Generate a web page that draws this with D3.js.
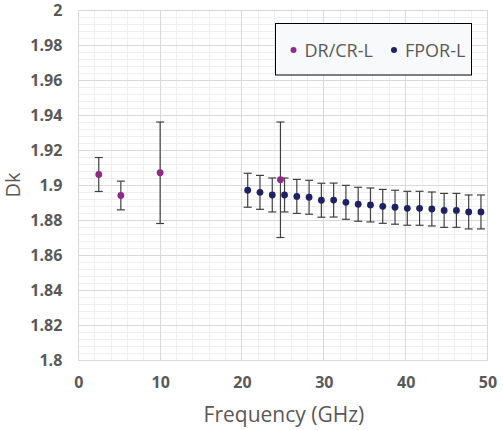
<!DOCTYPE html>
<html lang='en'>
  <head>
    <meta charset='utf-8'>
    <style>
      body { margin: 0; background: #fff; }
      svg { display: block; font-family: 'Open Sans', sans-serif; }
    </style>
  </head>
  <body>
    <div id='chart'></div>

    <script src='https://cdn.jsdelivr.net/npm/d3@7'></script>
    <script>
      // DR/CR-L measurements
      var drFreq = [2.5, 5.2, 10, 24.7];
      var drDk   = [1.906, 1.894, 1.907, 1.903];
      var drErr  = [0.0097, 0.0082, 0.029, 0.033];

      // FPOR-L measurements
      var fpFreq = [20.7, 22.2, 23.7, 25.2, 26.7, 28.2, 29.7, 31.2, 32.7, 34.2,
                    35.7, 37.2, 38.7, 40.2, 41.7, 43.2, 44.7, 46.2, 47.7, 49.2];
      var fpDk   = [1.8970, 1.8958, 1.8943, 1.8943, 1.8935, 1.8930, 1.8913, 1.8914, 1.8901, 1.8890,
                    1.8886, 1.8878, 1.8873, 1.8867, 1.8867, 1.8863, 1.8855, 1.8855, 1.8846, 1.8846];
      var fpErr  = [0.0097, 0.0097, 0.0097, 0.0097, 0.0097, 0.0097, 0.0097, 0.0097, 0.0097, 0.0097,
                    0.0097, 0.0097, 0.0097, 0.0097, 0.0097, 0.0097, 0.0097, 0.0097, 0.0097, 0.0097];

      var xTicks = [0, 10, 20, 30, 40, 50];
      var yTicks = [1.8, 1.82, 1.84, 1.86, 1.88, 1.9, 1.92, 1.94, 1.96, 1.98, 2];

      var seriesNames = ['DR/CR-L', 'FPOR-L'];
      var seriesColors = ['#8e2a87', '#1e2162'];

      var width = 503, height = 430;
      var mLeft = 78.3, mRight = 487.5, mTop = 10, mBottom = 360;

      var x = d3.scaleLinear().domain([0, 50]).range([mLeft, mRight]);
      var y = d3.scaleLinear().domain([1.8, 2]).range([mBottom, mTop]);

      var svg = d3.select('#chart').append('svg')
          .attr('width', width)
          .attr('height', height);

      // minor grid
      var g = svg.append('g').attr('shape-rendering', 'crispEdges');
      g.selectAll('.xminor')
          .data(d3.range(0, 50.01, 2))
        .enter().append('line')
          .attr('x1', function (d) { return x(d); })
          .attr('x2', function (d) { return x(d); })
          .attr('y1', mTop).attr('y2', mBottom)
          .attr('stroke', '#efefef');
      g.selectAll('.yminor')
          .data(d3.range(0, 51).map(function (i) { return 1.8 + i * 0.004; }))
        .enter().append('line')
          .attr('x1', mLeft).attr('x2', mRight)
          .attr('y1', function (d) { return y(d); })
          .attr('y2', function (d) { return y(d); })
          .attr('stroke', '#efefef');

      // major grid
      g.selectAll('.xmajor')
          .data(xTicks)
        .enter().append('line')
          .attr('x1', function (d) { return x(d); })
          .attr('x2', function (d) { return x(d); })
          .attr('y1', mTop).attr('y2', mBottom)
          .attr('stroke', '#d9d9d9');
      g.selectAll('.ymajor')
          .data(yTicks)
        .enter().append('line')
          .attr('x1', mLeft).attr('x2', mRight)
          .attr('y1', function (d) { return y(d); })
          .attr('y2', function (d) { return y(d); })
          .attr('stroke', '#d9d9d9');

      // axes (labels only)
      var yAxis = svg.append('g')
          .attr('transform', 'translate(' + mLeft + ',0)')
          .call(d3.axisLeft(y).tickValues(yTicks).tickSize(0).tickPadding(16)
            .tickFormat(function (d) { return String(+d.toFixed(2)); }));
      var xAxis = svg.append('g')
          .attr('transform', 'translate(0,' + mBottom + ')')
          .call(d3.axisBottom(x).tickValues(xTicks).tickSize(0).tickPadding(17));
      [yAxis, xAxis].forEach(function (a) {
        a.select('.domain').remove();
        a.selectAll('text')
            .attr('fill', '#595959')
            .style('font-size', '16px')
            .style('font-weight', 'bold')
            .style('font-family', "'Open Sans', sans-serif");
      });
      yAxis.selectAll('text').attr('dy', '0.35em');

      // axis titles
      svg.append('text')
          .attr('x', (mLeft + mRight) / 2 + 1)
          .attr('y', 422)
          .attr('text-anchor', 'middle')
          .attr('fill', '#595959')
          .style('font-size', '21px')
          .text('Frequency (GHz)');
      svg.append('text')
          .attr('transform', 'translate(20,' + 185 + ') rotate(-90)')
          .attr('text-anchor', 'middle')
          .attr('fill', '#595959')
          .style('font-size', '20px')
          .text('Dk');

      // series with error bars
      function drawSeries(freq, dk, err, color) {
        var pts = freq.map(function (f, i) { return { f: f, v: dk[i], e: err[i] }; });
        var s = svg.append('g');
        var eb = s.selectAll('.eb').data(pts).enter().append('g')
            .attr('stroke', '#404040').attr('stroke-width', 1.2);
        eb.append('line')
            .attr('x1', function (d) { return x(d.f); })
            .attr('x2', function (d) { return x(d.f); })
            .attr('y1', function (d) { return y(d.v + d.e); })
            .attr('y2', function (d) { return y(d.v - d.e); });
        [1, -1].forEach(function (sgn) {
          eb.append('line')
              .attr('x1', function (d) { return x(d.f) - 4; })
              .attr('x2', function (d) { return x(d.f) + 4; })
              .attr('y1', function (d) { return y(d.v + sgn * d.e); })
              .attr('y2', function (d) { return y(d.v + sgn * d.e); });
        });
        return function () {
          s.selectAll('circle').data(pts).enter().append('circle')
              .attr('cx', function (d) { return x(d.f); })
              .attr('cy', function (d) { return y(d.v); })
              .attr('r', 3.4)
              .attr('fill', color);
        };
      }
      var drawFp = drawSeries(fpFreq, fpDk, fpErr, seriesColors[1]);
      var drawDr = drawSeries(drFreq, drDk, drErr, seriesColors[0]);
      drawFp();
      drawDr();

      // legend
      var lg = svg.append('g');
      lg.append('rect')
          .attr('x', 275.5).attr('y', 23.5)
          .attr('width', 196).attr('height', 51.5)
          .attr('fill', '#f8f9fb')
          .attr('stroke', '#000').attr('stroke-width', 1);
      var legendX = [293.5, 394];
      seriesNames.forEach(function (n, i) {
        lg.append('circle')
            .attr('cx', legendX[i]).attr('cy', 50)
            .attr('r', 3)
            .attr('fill', seriesColors[i]);
        lg.append('text')
            .attr('x', legendX[i] + 11).attr('y', 56.5)
            .attr('fill', '#595959')
            .style('font-size', '18px')
            .text(n);
      });
    </script>
  </body>
</html>
